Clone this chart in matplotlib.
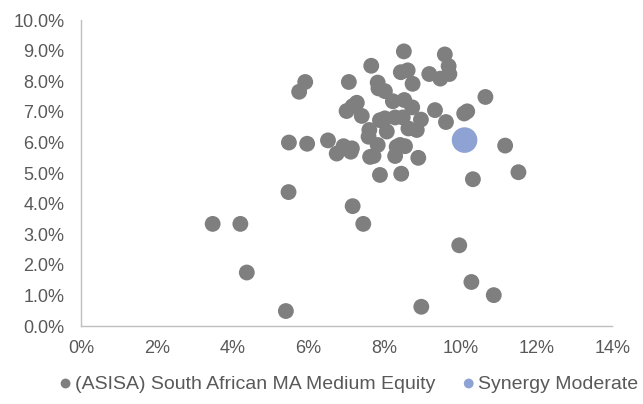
import matplotlib
matplotlib.use('Agg')
import matplotlib.pyplot as plt
from matplotlib.ticker import FuncFormatter, MultipleLocator

plt.rcParams['font.family'] = ['Liberation Sans', 'DejaVu Sans']

# peer group funds: (return %, risk %)
peer_x = [3.47, 4.20, 4.37, 5.40, 5.47, 7.16, 7.44,
          8.97, 9.97, 10.29, 10.88, 10.33, 11.53, 11.18,
          7.88, 8.44,
          8.51, 9.59, 9.69, 9.71, 9.47, 9.18, 8.43, 8.61, 8.74,
          8.01, 7.84, 7.82, 7.65, 7.06, 5.91, 5.75,
          8.22, 8.52, 8.73, 9.33,
          10.10, 10.18, 10.66, 9.62, 8.96,
          8.01, 8.28, 8.48, 7.88,
          8.63, 8.85, 8.06,
          7.27, 7.00, 7.40, 7.16,
          7.60, 7.58, 7.82,
          5.48, 5.96, 6.51,
          6.92, 7.14, 6.74, 7.11,
          7.62, 7.71,
          8.32, 8.54, 8.28, 8.89, 8.41]
peer_y = [3.34, 3.34, 1.75, 0.49, 4.38, 3.92, 3.34,
          0.63, 2.64, 1.44, 1.01, 4.80, 5.03, 5.90,
          4.94, 4.98,
          8.98, 8.88, 8.50, 8.24, 8.09, 8.24, 8.30, 8.36, 7.92,
          7.68, 7.77, 7.96, 8.51, 7.98, 7.98, 7.66,
          7.35, 7.39, 7.15, 7.06,
          6.95, 7.02, 7.49, 6.67, 6.75,
          6.79, 6.82, 6.82, 6.73,
          6.46, 6.41, 6.36,
          7.30, 7.03, 6.87, 7.19,
          6.41, 6.19, 5.92,
          6.00, 5.96, 6.07,
          5.88, 5.81, 5.64, 5.70,
          5.53, 5.56,
          5.86, 5.88, 5.56, 5.50, 5.92]

fund_x = [10.11]
fund_y = [6.08]

peer_label = '(ASISA) South African MA Medium Equity'
fund_label = 'Synergy Moderate'

fig = plt.figure(figsize=(6.43, 4.04), dpi=100)
ax = fig.add_axes([0.126, 0.193, 0.826, 0.757])

ax.scatter(peer_x, peer_y, s=130, color='#7f7f7f', edgecolors='none',
           label=peer_label, zorder=2)
ax.scatter(fund_x, fund_y, s=340, color='#8fa2d4', edgecolors='none',
           label=fund_label, zorder=3)

ax.set_xlim(0, 14)
ax.set_ylim(0, 10)
ax.xaxis.set_major_locator(MultipleLocator(2))
ax.yaxis.set_major_locator(MultipleLocator(1))
ax.xaxis.set_major_formatter(FuncFormatter(lambda v, p: '%d%%' % round(v)))
ax.yaxis.set_major_formatter(FuncFormatter(lambda v, p: '%.1f%%' % v))

for side in ('top', 'right'):
    ax.spines[side].set_visible(False)
for side in ('left', 'bottom'):
    ax.spines[side].set_color('#bfbfbf')
    ax.spines[side].set_linewidth(1.0)
ax.tick_params(length=0, labelsize=13, labelcolor='#595959')
ax.tick_params(axis='x', pad=10)
ax.tick_params(axis='y', pad=12)

leg = fig.legend(loc='center', bbox_to_anchor=(0.54, 0.05), ncol=2,
                 frameon=False, fontsize=14, handletextpad=0.0,
                 columnspacing=1.2, handlelength=1.0)
for h in leg.legend_handles:
    h.set_sizes([50])
for t in leg.get_texts():
    t.set_color('#595959')

fig.savefig('out.png', dpi=100)
